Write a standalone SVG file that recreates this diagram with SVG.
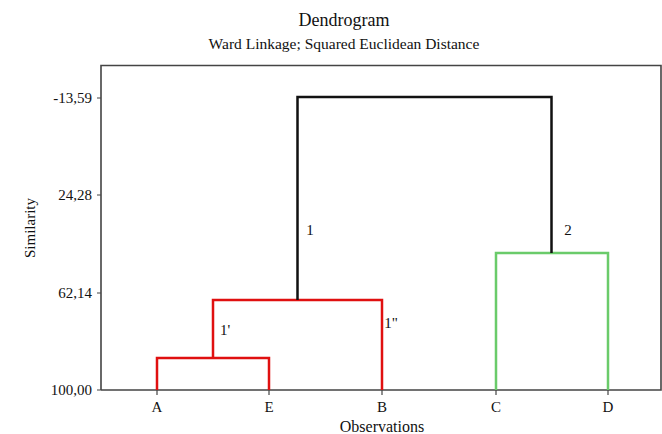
<svg xmlns="http://www.w3.org/2000/svg" width="662" height="434" viewBox="0 0 662 434">
<style>
text{font-family:"Liberation Serif","Times New Roman",serif;fill:#111}
.title{font-size:18px}
.sub{font-size:15.5px}
.tick{font-size:15px}
.lbl{font-size:15px}
.frame{fill:none;stroke:#444;stroke-width:1.6}
.tk{stroke:#444;stroke-width:1.2}
.k{fill:none;stroke:#111;stroke-width:2.5;stroke-linejoin:miter}
.r{fill:none;stroke:#e01010;stroke-width:2.5}
.g{fill:none;stroke:#6acb6a;stroke-width:2.5}
</style>
<rect width="662" height="434" fill="#fff"/>
<text class="title" x="344" y="26" text-anchor="middle">Dendrogram</text>
<text class="sub" x="344" y="49" text-anchor="middle">Ward Linkage; Squared Euclidean Distance</text>
<g id="axes">
<path class="frame" d="M101,390 V65.5 H661 V390 H101"/>
<path class="tk" d="M97,98H101M97,195H101M97,293H101M97,390H101M157,390V395M269,390V395M382,390V395M496,390V395M608,390V395"/>
<text class="tick" x="92" y="103" text-anchor="end">-13,59</text>
<text class="tick" x="92" y="200" text-anchor="end">24,28</text>
<text class="tick" x="92" y="298" text-anchor="end">62,14</text>
<text class="tick" x="92" y="395" text-anchor="end">100,00</text>
<text class="lbl" transform="translate(35,228) rotate(-90)" text-anchor="middle">Similarity</text>
<text class="lbl" x="382" y="432" text-anchor="middle" style="font-size:16px">Observations</text>
</g>
<g id="A"><text class="lbl" x="157" y="412" text-anchor="middle">A</text></g>
<g id="E"><text class="lbl" x="269" y="412" text-anchor="middle">E</text></g>
<g id="B"><text class="lbl" x="382" y="412" text-anchor="middle">B</text></g>
<g id="C"><text class="lbl" x="496" y="412" text-anchor="middle">C</text></g>
<g id="D"><text class="lbl" x="608" y="412" text-anchor="middle">D</text></g>
<g id="connectors">
<path class="r" d="M157,390V358H269V390"/>
<path class="r" d="M213,358V300H382V390"/>
<path class="g" d="M496,390V253H608V390"/>
<path class="k" d="M297.5,300V97H551.5V253"/>
</g>
<g id="labels">
<text class="lbl" x="310" y="235" text-anchor="middle">1</text>
<text class="lbl" x="568" y="235" text-anchor="middle">2</text>
<text class="lbl" x="225" y="335" text-anchor="middle">1'</text>
<text class="lbl" x="391" y="328" text-anchor="middle">1"</text>
</g>
</svg>
